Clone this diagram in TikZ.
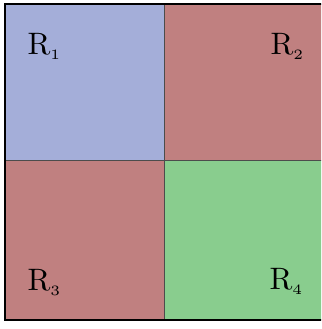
\documentclass[tikz,border=0pt]{standalone}
\usepackage{tikz}
\usetikzlibrary{positioning}

\definecolor{regblue}{RGB}{164,174,217}
\definecolor{regred}{RGB}{192,128,128}
\definecolor{reggreen}{RGB}{137,205,142}

\newcommand{\regsub}[1]{$_{\mbox{\fontsize{4.6}{5}\selectfont #1}}$}

\tikzset{
  lab/.style={scale=3.1, transform shape, inner sep=0pt, anchor=base west},
  divline/.style={line width=1pt, draw=black!70},
}

\begin{document}
\begin{tikzpicture}[x=1pt,y=1pt]
  \useasboundingbox (0,0) rectangle (321,329);
  \clip (0,0) rectangle (321,329);
  % regions
  \fill[regblue] (5,168) rectangle (164,325);
  \fill[regred] (164,168) rectangle (324,325);
  \fill[regred] (5,9) rectangle (164,168);
  \fill[reggreen] (164,9) rectangle (324,168);
  % dividers
  \draw[divline] (164,9) -- (164,325);
  \draw[divline] (5,168) -- (324,168);
  % outer frame
  \draw[line width=2.5pt] (5,9) rectangle (324,325);
  % labels
  \node[lab] (r1) at (27,274) {R\regsub{1}};
  \node[lab] (r2) at (270,274) {R\regsub{2}};
  \node[lab] (r3) at (27,38.5) {R\regsub{3}};
  \node[lab] (r4) at (269,39) {R\regsub{4}};
\end{tikzpicture}
\end{document}
